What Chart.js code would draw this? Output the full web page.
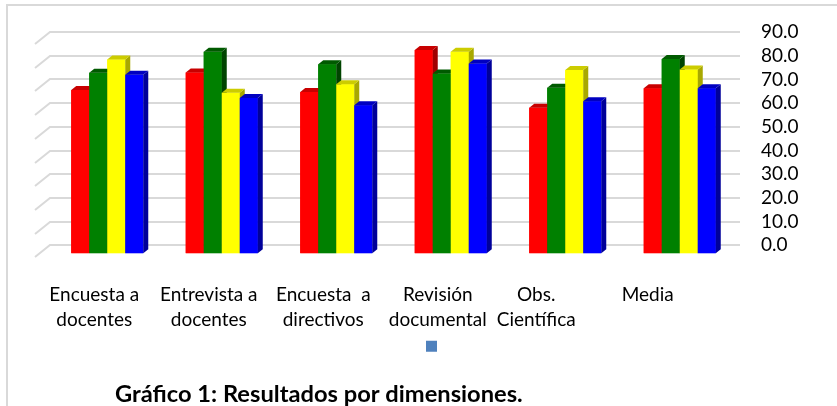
<!DOCTYPE html>
<html>
<head>
<meta charset="utf-8">
<script src="https://cdn.jsdelivr.net/npm/chart.js@4"></script>
<style>
  html, body { margin: 0; padding: 0; background: #fff; }
  #wrap { width: 837px; height: 406px; position: relative; }
</style>
</head>
<body>
<div id="wrap"><canvas id="myChart" width="837" height="406"></canvas></div>
<script>
const categories = [
    ['Encuesta a', 'docentes'],
    ['Entrevista a', 'docentes'],
    ['Encuesta  a', 'directivos'],
    ['Revisión', 'documental'],
    ['Obs.', 'Científica'],
    ['Media']
];
const serieRoja = [68.9, 76.3, 68.1, 85.8, 61.4, 69.6];
const serieVerde = [76.2, 85.0, 79.8, 75.9, 69.8, 82.0];
const serieAmarilla = [81.8, 67.7, 71.3, 85.0, 77.3, 77.6];
const serieAzul = [75.3, 65.5, 62.5, 80.1, 64.2, 69.6];
const yTicks = [0, 10, 20, 30, 40, 50, 60, 70, 80, 90];
const titleText = 'Gráfico 1: Resultados por dimensiones.';

// depth of the fake 3d look
const DX = 5;
const DY = 4;
const WALL = 8;
// the last two labels sit further left in the original
const labelNudge = [0, 0, 0, 0, -16, -19];

const sideColors = ['#a00000', '#004400', '#a8a800', '#00009a'];
const capColors = ['#c80000', '#005a00', '#cccc00', '#0000c0'];

const chromePlugin = {
    id: 'chrome',
    beforeDraw(chart) {
        const ctx = chart.ctx;
        ctx.save();
        ctx.strokeStyle = '#d9d9d9';
        ctx.lineWidth = 2;
        ctx.beginPath();
        ctx.moveTo(7, 406);
        ctx.lineTo(7, 5);
        ctx.lineTo(837, 5);
        ctx.stroke();
        ctx.restore();

        const items = chart.scales.x.getLabelItems();
        items.forEach((item, i) => {
            item.options.translation[0] += labelNudge[i] || 0;
        });
    },
    beforeDatasetsDraw(chart) {
        const ctx = chart.ctx;
        const y = chart.scales.y;
        const area = chart.chartArea;
        ctx.save();
        ctx.strokeStyle = '#d9d9d9';
        ctx.lineWidth = 2;
        for (let v of yTicks) {
            const py = Math.round(y.getPixelForValue(v)) - WALL;
            ctx.beginPath();
            ctx.moveTo(area.left - 15, py + 12);
            ctx.lineTo(area.left, py);
            ctx.lineTo(area.right + 3, py);
            ctx.stroke();
        }
        ctx.restore();
    },
    afterDatasetsDraw(chart) {
        // redraw left to right so each bar hides the side of the one before
        const ctx = chart.ctx;
        ctx.save();
        chart.data.datasets.forEach((ds, i) => {
            const meta = chart.getDatasetMeta(i);
            for (let bar of meta.data) {
                bar.draw(ctx, chart.chartArea);
                const p = bar.getProps(['x', 'y', 'base', 'width'], true);
                const left = p.x - p.width / 2;
                const right = p.x + p.width / 2;
                ctx.fillStyle = sideColors[i];
                ctx.beginPath();
                ctx.moveTo(right, p.y);
                ctx.lineTo(right + DX, p.y - DY);
                ctx.lineTo(right + DX, p.base - DY);
                ctx.lineTo(right, p.base);
                ctx.closePath();
                ctx.fill();
                ctx.fillStyle = capColors[i];
                ctx.beginPath();
                ctx.moveTo(left, p.y);
                ctx.lineTo(left + DX, p.y - DY);
                ctx.lineTo(right + DX, p.y - DY);
                ctx.lineTo(right, p.y);
                ctx.closePath();
                ctx.fill();
            }
        });
        ctx.restore();
    },
    afterLayout(chart) {
        chart.titleBlock.left = 115;
        chart.legend.left += 8;
        chart.legend.right += 8;
    }
};

var ctx = document.getElementById('myChart').getContext('2d');
var myChart = new Chart(ctx, {
    type: 'bar',
    data: {
        labels: categories,
        datasets: [{
            label: 'Serie 1',
            data: serieRoja,
            backgroundColor: '#ff0000'
        },
        {
            label: 'Serie 2',
            data: serieVerde,
            backgroundColor: '#008000'
        },
        {
            label: 'Serie 3',
            data: serieAmarilla,
            backgroundColor: '#ffff00'
        },
        {
            label: 'Serie 4',
            data: serieAzul,
            backgroundColor: '#0000ff'
        }]
    },
    options: {
        responsive: false,
        animation: false,
        layout: {
            padding: { left: 50, right: 34, top: 40, bottom: 0 }
        },
        datasets: {
            bar: {
                categoryPercentage: 0.629,
                barPercentage: 1.0,
                borderWidth: 0
            }
        },
        scales: {
            x: {
                grid: { display: false, drawTicks: false },
                border: { display: false },
                afterFit: (scale) => { scale.height = 79; },
                ticks: {
                    color: '#000',
                    padding: 29,
                    labelOffset: -13,
                    maxRotation: 0,
                    autoSkip: false,
                    font: { family: 'Lato', size: 19, lineHeight: 1.32 }
                }
            },
            y: {
                position: 'right',
                min: 0,
                max: 90,
                grid: { display: false, drawTicks: false },
                border: { display: false },
                afterFit: (scale) => { scale.width = 66; },
                ticks: {
                    stepSize: 10,
                    autoSkip: false,
                    color: '#000',
                    padding: 24,
                    labelOffset: -WALL,
                    font: { family: 'Lato', size: 19 },
                    callback: (v) => Number(v).toFixed(1)
                }
            }
        },
        plugins: {
            tooltip: { enabled: false },
            legend: {
                position: 'bottom',
                labels: {
                    boxWidth: 11,
                    boxHeight: 11,
                    padding: 8,
                    font: { size: 12 },
                    generateLabels: () => [{
                        text: '',
                        fillStyle: '#4f81bd',
                        strokeStyle: '#4f81bd',
                        lineWidth: 0
                    }]
                }
            },
            title: {
                display: true,
                position: 'bottom',
                align: 'start',
                text: titleText,
                color: '#000',
                padding: { top: 20, bottom: 0 },
                font: { family: 'Lato', size: 23.7, weight: 'bold', lineHeight: 1.0 }
            }
        }
    },
    plugins: [chromePlugin]
});
</script>
</body>
</html>
